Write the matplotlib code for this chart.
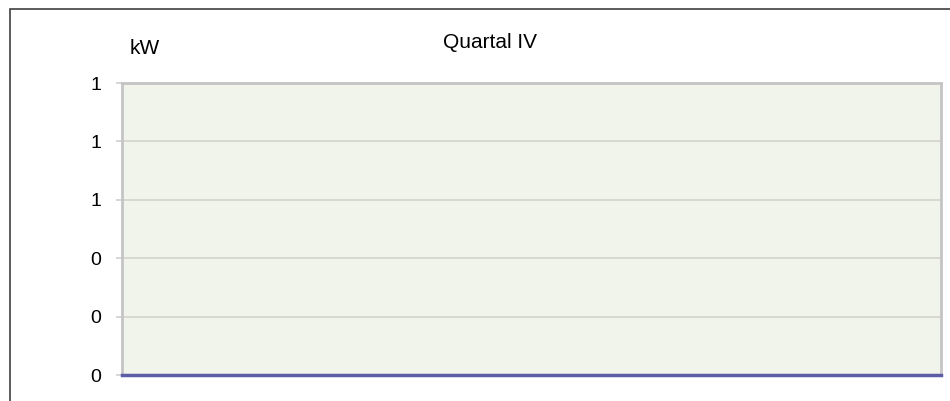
import matplotlib
matplotlib.use("Agg")
from matplotlib import pyplot as plt
from matplotlib.patches import Rectangle
from matplotlib.ticker import FormatStrFormatter

plt.rcParams['font.family'] = ['Liberation Sans', 'DejaVu Sans']

# weekly power in quarter IV (all zero)
weeks = list(range(1, 14))
power_kw = [0, 0, 0, 0, 0, 0, 0, 0, 0, 0, 0, 0, 0]
y_ticks = [0, 0.2, 0.4, 0.6, 0.8, 1.0]

title = "Quartal IV"
unit = "kW"


def main():
    fig = plt.figure(figsize=(9.5, 4.01), dpi=100)

    # outer frame of the chart (runs off the right / bottom edge)
    fig.patches.append(Rectangle((10 / 950, -0.1), 1.1, 1 - 9 / 401 + 0.1,
                                 transform=fig.transFigure, fill=False,
                                 edgecolor="#404040", linewidth=1.2))

    ax = fig.add_axes([122 / 950, 1 - 375 / 401, (941 - 122) / 950, (375 - 83) / 401])
    ax.set_facecolor("#F1F4EA")

    ax.plot(weeks, power_kw, color="#5B5EA6", linewidth=2.5, zorder=3, clip_on=False)

    ax.set_xlim(weeks[0], weeks[-1])
    ax.set_ylim(y_ticks[0], y_ticks[-1])
    ax.set_yticks(y_ticks)
    ax.yaxis.set_major_formatter(FormatStrFormatter("%.0f"))
    ax.set_xticks([])
    ax.grid(axis="y", color="#D2D4CC", linewidth=1.2)
    ax.set_axisbelow(True)

    ax.tick_params(axis="y", length=4.3, width=1.2, color="#D0D0D0", labelsize=14, pad=10.5)

    for side in ["left", "right", "top", "bottom"]:
        ax.spines[side].set_color("#C4C4C4")
        ax.spines[side].set_linewidth(2)

    fig.text(490 / 950, 1 - 43 / 401, title, ha="center", va="center", fontsize=15)
    fig.text(145 / 950, 1 - 48 / 401, unit, ha="center", va="center", fontsize=15)

    plt.savefig("out.png", dpi=100)
    plt.close()


if __name__ == "__main__":
    main()
